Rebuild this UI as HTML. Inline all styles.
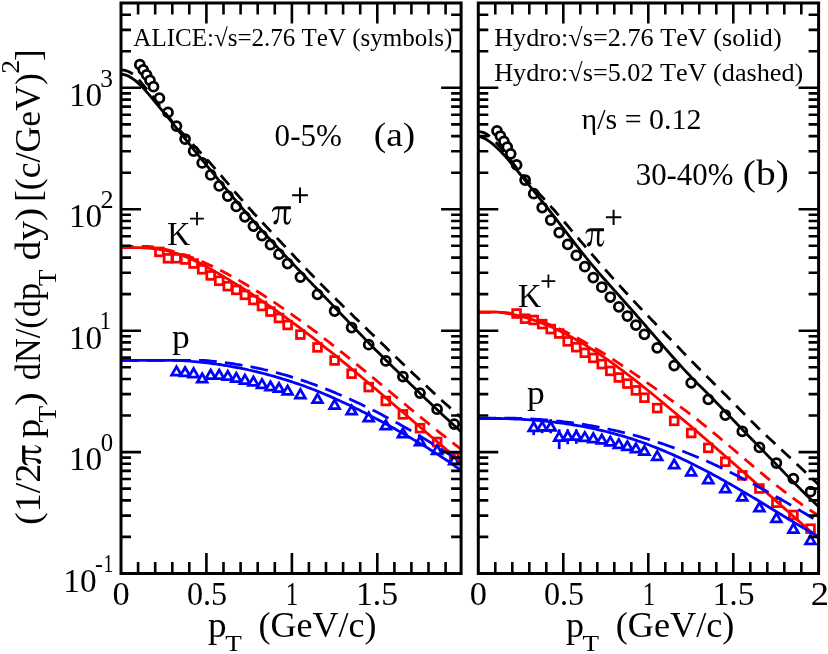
<!DOCTYPE html>
<html><head><meta charset="utf-8"><title>Spectra</title>
<style>
html,body{margin:0;padding:0;background:#fff;}
body{width:828px;height:654px;overflow:hidden;font-family:"Liberation Serif",serif;}
svg{display:block;will-change:transform;}
svg text{font-family:"Liberation Serif",serif;fill:#000;font-kerning:none;}
</style></head><body>
<svg width="828" height="654" viewBox="0 0 828 654">
<rect width="100%" height="100%" fill="#fff"/>
<clipPath id="clipL"><rect x="121.0" y="3.0" width="340.1" height="570.5"/></clipPath>
<g clip-path="url(#clipL)">
<g fill="#fff" stroke="#000000" stroke-width="2.75" stroke-linejoin="miter"><circle cx="139.8" cy="64.7" r="4.50"/><circle cx="143.2" cy="69.8" r="4.50"/><circle cx="146.6" cy="74.8" r="4.50"/><circle cx="150.0" cy="80.3" r="4.50"/><circle cx="153.5" cy="86.7" r="4.50"/><circle cx="159.4" cy="98.2" r="4.50"/><circle cx="168.0" cy="112.4" r="4.50"/><circle cx="176.5" cy="126.1" r="4.50"/><circle cx="185.1" cy="139.0" r="4.50"/><circle cx="193.6" cy="151.0" r="4.50"/><circle cx="202.2" cy="162.9" r="4.50"/><circle cx="210.7" cy="174.9" r="4.50"/><circle cx="219.2" cy="185.9" r="4.50"/><circle cx="227.8" cy="196.0" r="4.50"/><circle cx="236.3" cy="206.4" r="4.50"/><circle cx="244.9" cy="216.8" r="4.50"/><circle cx="253.4" cy="226.1" r="4.50"/><circle cx="262.0" cy="235.6" r="4.50"/><circle cx="270.5" cy="244.7" r="4.50"/><circle cx="279.0" cy="254.2" r="4.50"/><circle cx="287.6" cy="263.5" r="4.50"/><circle cx="300.4" cy="277.1" r="4.50"/><circle cx="317.5" cy="294.3" r="4.50"/><circle cx="334.6" cy="311.0" r="4.50"/><circle cx="351.6" cy="327.5" r="4.50"/><circle cx="368.7" cy="344.7" r="4.50"/><circle cx="385.8" cy="360.9" r="4.50"/><circle cx="402.9" cy="376.5" r="4.50"/><circle cx="420.0" cy="393.1" r="4.50"/><circle cx="437.1" cy="409.2" r="4.50"/><circle cx="454.2" cy="424.1" r="4.50"/></g>
<g fill="#fff" stroke="#ff0000" stroke-width="2.75" stroke-linejoin="miter"><rect x="155.5" y="248.0" width="7.8" height="7.8"/><rect x="164.1" y="254.4" width="7.8" height="7.8"/><rect x="172.6" y="254.4" width="7.8" height="7.8"/><rect x="181.2" y="255.6" width="7.8" height="7.8"/><rect x="189.7" y="259.6" width="7.8" height="7.8"/><rect x="198.3" y="265.4" width="7.8" height="7.8"/><rect x="206.8" y="271.5" width="7.8" height="7.8"/><rect x="215.3" y="276.9" width="7.8" height="7.8"/><rect x="223.9" y="282.3" width="7.8" height="7.8"/><rect x="232.4" y="286.0" width="7.8" height="7.8"/><rect x="241.0" y="291.0" width="7.8" height="7.8"/><rect x="249.5" y="296.1" width="7.8" height="7.8"/><rect x="258.1" y="302.1" width="7.8" height="7.8"/><rect x="266.6" y="307.7" width="7.8" height="7.8"/><rect x="275.1" y="314.1" width="7.8" height="7.8"/><rect x="283.7" y="321.1" width="7.8" height="7.8"/><rect x="296.5" y="330.7" width="7.8" height="7.8"/><rect x="313.6" y="343.5" width="7.8" height="7.8"/><rect x="330.7" y="356.6" width="7.8" height="7.8"/><rect x="347.7" y="369.8" width="7.8" height="7.8"/><rect x="364.8" y="383.2" width="7.8" height="7.8"/><rect x="381.9" y="397.1" width="7.8" height="7.8"/><rect x="399.0" y="410.5" width="7.8" height="7.8"/><rect x="416.1" y="424.3" width="7.8" height="7.8"/><rect x="433.2" y="438.1" width="7.8" height="7.8"/><rect x="450.3" y="453.3" width="7.8" height="7.8"/></g>
<g fill="#fff" stroke="#0000ff" stroke-width="2.75" stroke-linejoin="miter"><path d="M171.6 375.1 L181.4 375.1 L176.5 366.7 Z"/><path d="M180.2 375.9 L190.0 375.9 L185.1 367.5 Z"/><path d="M188.7 377.0 L198.5 377.0 L193.6 368.6 Z"/><path d="M197.3 382.2 L207.1 382.2 L202.2 373.8 Z"/><path d="M205.8 378.5 L215.6 378.5 L210.7 370.1 Z"/><path d="M214.3 378.5 L224.1 378.5 L219.2 370.1 Z"/><path d="M222.9 379.6 L232.7 379.6 L227.8 371.2 Z"/><path d="M231.4 381.7 L241.2 381.7 L236.3 373.3 Z"/><path d="M240.0 383.5 L249.8 383.5 L244.9 375.1 Z"/><path d="M248.5 385.4 L258.3 385.4 L253.4 377.0 Z"/><path d="M257.1 387.8 L266.9 387.8 L262.0 379.4 Z"/><path d="M265.6 390.1 L275.4 390.1 L270.5 381.7 Z"/><path d="M274.1 391.7 L283.9 391.7 L279.0 383.3 Z"/><path d="M282.7 394.4 L292.5 394.4 L287.6 386.0 Z"/><path d="M295.5 398.0 L305.3 398.0 L300.4 389.6 Z"/><path d="M312.6 402.7 L322.4 402.7 L317.5 394.3 Z"/><path d="M329.7 408.5 L339.5 408.5 L334.6 400.1 Z"/><path d="M346.7 414.1 L356.5 414.1 L351.6 405.7 Z"/><path d="M363.8 421.1 L373.6 421.1 L368.7 412.7 Z"/><path d="M380.9 429.0 L390.7 429.0 L385.8 420.6 Z"/><path d="M398.0 437.0 L407.8 437.0 L402.9 428.6 Z"/><path d="M415.1 445.0 L424.9 445.0 L420.0 436.6 Z"/><path d="M432.2 453.8 L442.0 453.8 L437.1 445.4 Z"/><path d="M449.3 464.0 L459.1 464.0 L454.2 455.6 Z"/></g>
<path d="M121.0 74.2 L123.5 74.5 L125.9 75.1 L128.4 76.1 L130.8 77.5 L133.3 79.1 L135.7 80.9 L138.2 83.1 L140.7 85.4 L143.1 87.9 L145.6 90.6 L148.0 93.4 L150.5 96.3 L153.0 99.3 L155.4 102.3 L157.9 105.4 L160.3 108.4 L162.8 111.3 L165.2 114.2 L167.7 117.1 L170.2 120.1 L172.6 123.2 L175.1 126.3 L177.5 129.4 L180.0 132.5 L182.5 135.6 L184.9 138.6 L187.4 141.7 L189.8 144.7 L192.3 147.7 L194.7 150.8 L197.2 153.8 L199.7 156.8 L202.1 159.8 L204.6 162.8 L207.0 165.8 L209.5 168.8 L212.0 171.8 L214.4 174.8 L216.9 177.8 L219.3 180.8 L221.8 183.8 L224.2 186.7 L226.7 189.7 L229.2 192.7 L231.6 195.6 L234.1 198.6 L236.5 201.5 L239.0 204.4 L241.5 207.3 L243.9 210.2 L246.4 213.0 L248.8 215.8 L251.3 218.6 L253.7 221.4 L256.2 224.2 L258.7 227.0 L261.1 229.7 L263.6 232.4 L266.0 235.1 L268.5 237.8 L271.0 240.5 L273.4 243.1 L275.9 245.8 L278.3 248.4 L280.8 251.0 L283.2 253.7 L285.7 256.3 L288.2 258.9 L290.6 261.4 L293.1 264.0 L295.5 266.6 L298.0 269.2 L300.5 271.7 L302.9 274.3 L305.4 276.8 L307.8 279.4 L310.3 281.9 L312.7 284.5 L315.2 287.0 L317.7 289.6 L320.1 292.1 L322.6 294.7 L325.0 297.2 L327.5 299.8 L330.0 302.4 L332.4 304.9 L334.9 307.5 L337.3 310.1 L339.8 312.7 L342.2 315.2 L344.7 317.8 L347.2 320.4 L349.6 323.0 L352.1 325.6 L354.5 328.2 L357.0 330.7 L359.5 333.3 L361.9 335.8 L364.4 338.4 L366.8 340.9 L369.3 343.4 L371.7 345.9 L374.2 348.4 L376.7 350.9 L379.1 353.3 L381.6 355.8 L384.0 358.2 L386.5 360.7 L389.0 363.1 L391.4 365.5 L393.9 367.9 L396.3 370.3 L398.8 372.7 L401.2 375.1 L403.7 377.5 L406.2 379.9 L408.6 382.3 L411.1 384.7 L413.5 387.1 L416.0 389.4 L418.5 391.8 L420.9 394.2 L423.4 396.6 L425.8 398.9 L428.3 401.3 L430.7 403.6 L433.2 406.0 L435.7 408.3 L438.1 410.6 L440.6 412.9 L443.0 415.2 L445.5 417.5 L448.0 419.8 L450.4 422.0 L452.9 424.3 L455.3 426.5 L457.8 428.7 L460.2 430.9 L462.7 433.1" fill="none" stroke="#000000" stroke-width="2.8"/>
<path d="M121.0 70.0 L123.5 70.2 L125.9 70.7 L128.4 71.5 L130.8 72.7 L133.3 74.3 L135.7 76.4 L138.2 79.0 L140.7 81.9 L143.1 85.0 L145.6 88.0 L148.0 90.9 L150.5 93.9 L153.0 96.9 L155.4 100.2 L157.9 103.4 L160.3 106.6 L162.8 109.8 L165.2 112.9 L167.7 116.0 L170.2 119.0 L172.6 122.0 L175.1 124.9 L177.5 127.7 L180.0 130.5 L182.5 133.2 L184.9 135.9 L187.4 138.6 L189.8 141.2 L192.3 143.8 L194.7 146.4 L197.2 149.0 L199.7 151.7 L202.1 154.3 L204.6 156.9 L207.0 159.6 L209.5 162.3 L212.0 165.1 L214.4 167.9 L216.9 170.7 L219.3 173.6 L221.8 176.4 L224.2 179.3 L226.7 182.2 L229.2 185.1 L231.6 188.0 L234.1 190.9 L236.5 193.8 L239.0 196.6 L241.5 199.5 L243.9 202.3 L246.4 205.0 L248.8 207.8 L251.3 210.5 L253.7 213.2 L256.2 215.8 L258.7 218.5 L261.1 221.1 L263.6 223.8 L266.0 226.4 L268.5 229.0 L271.0 231.6 L273.4 234.2 L275.9 236.8 L278.3 239.4 L280.8 242.0 L283.2 244.6 L285.7 247.2 L288.2 249.8 L290.6 252.4 L293.1 255.0 L295.5 257.7 L298.0 260.3 L300.5 262.9 L302.9 265.4 L305.4 268.0 L307.8 270.6 L310.3 273.2 L312.7 275.7 L315.2 278.2 L317.7 280.8 L320.1 283.3 L322.6 285.8 L325.0 288.2 L327.5 290.7 L330.0 293.1 L332.4 295.6 L334.9 298.0 L337.3 300.4 L339.8 302.8 L342.2 305.3 L344.7 307.6 L347.2 310.0 L349.6 312.4 L352.1 314.8 L354.5 317.2 L357.0 319.5 L359.5 321.9 L361.9 324.3 L364.4 326.6 L366.8 329.0 L369.3 331.4 L371.7 333.8 L374.2 336.1 L376.7 338.5 L379.1 340.9 L381.6 343.2 L384.0 345.6 L386.5 348.0 L389.0 350.4 L391.4 352.7 L393.9 355.1 L396.3 357.5 L398.8 359.8 L401.2 362.2 L403.7 364.6 L406.2 366.9 L408.6 369.3 L411.1 371.6 L413.5 373.9 L416.0 376.3 L418.5 378.6 L420.9 380.9 L423.4 383.2 L425.8 385.5 L428.3 387.8 L430.7 390.1 L433.2 392.4 L435.7 394.7 L438.1 397.0 L440.6 399.2 L443.0 401.5 L445.5 403.7 L448.0 405.9 L450.4 408.1 L452.9 410.3 L455.3 412.5 L457.8 414.7 L460.2 416.8 L462.7 419.0" fill="none" stroke="#000000" stroke-width="2.8" stroke-dasharray="12.7 8.3"/>
<path d="M121.0 247.6 L123.5 247.6 L125.9 247.6 L128.4 247.6 L130.8 247.6 L133.3 247.6 L135.7 247.6 L138.2 247.6 L140.7 247.7 L143.1 247.8 L145.6 248.0 L148.0 248.1 L150.5 248.3 L153.0 248.6 L155.4 248.9 L157.9 249.2 L160.3 249.6 L162.8 250.0 L165.2 250.5 L167.7 251.0 L170.2 251.6 L172.6 252.3 L175.1 253.0 L177.5 253.7 L180.0 254.6 L182.5 255.4 L184.9 256.4 L187.4 257.4 L189.8 258.4 L192.3 259.5 L194.7 260.7 L197.2 261.9 L199.7 263.1 L202.1 264.4 L204.6 265.7 L207.0 267.1 L209.5 268.4 L212.0 269.8 L214.4 271.2 L216.9 272.6 L219.3 274.0 L221.8 275.5 L224.2 276.9 L226.7 278.4 L229.2 279.9 L231.6 281.4 L234.1 282.9 L236.5 284.4 L239.0 285.9 L241.5 287.5 L243.9 289.0 L246.4 290.6 L248.8 292.2 L251.3 293.8 L253.7 295.4 L256.2 297.0 L258.7 298.7 L261.1 300.3 L263.6 302.0 L266.0 303.7 L268.5 305.3 L271.0 307.0 L273.4 308.8 L275.9 310.5 L278.3 312.2 L280.8 314.0 L283.2 315.7 L285.7 317.5 L288.2 319.3 L290.6 321.1 L293.1 322.9 L295.5 324.7 L298.0 326.5 L300.5 328.4 L302.9 330.2 L305.4 332.1 L307.8 333.9 L310.3 335.8 L312.7 337.7 L315.2 339.6 L317.7 341.5 L320.1 343.5 L322.6 345.4 L325.0 347.3 L327.5 349.3 L330.0 351.2 L332.4 353.2 L334.9 355.2 L337.3 357.2 L339.8 359.2 L342.2 361.2 L344.7 363.2 L347.2 365.2 L349.6 367.2 L352.1 369.3 L354.5 371.3 L357.0 373.4 L359.5 375.4 L361.9 377.5 L364.4 379.5 L366.8 381.6 L369.3 383.7 L371.7 385.8 L374.2 387.8 L376.7 389.9 L379.1 392.0 L381.6 394.1 L384.0 396.2 L386.5 398.3 L389.0 400.4 L391.4 402.5 L393.9 404.6 L396.3 406.7 L398.8 408.8 L401.2 410.9 L403.7 413.0 L406.2 415.1 L408.6 417.2 L411.1 419.4 L413.5 421.5 L416.0 423.6 L418.5 425.7 L420.9 427.8 L423.4 429.9 L425.8 432.0 L428.3 434.1 L430.7 436.2 L433.2 438.3 L435.7 440.4 L438.1 442.5 L440.6 444.6 L443.0 446.6 L445.5 448.7 L448.0 450.8 L450.4 452.9 L452.9 454.9 L455.3 457.0 L457.8 459.0 L460.2 461.1 L462.7 463.1" fill="none" stroke="#ff0000" stroke-width="2.8"/>
<path d="M121.0 246.5 L123.5 246.5 L125.9 246.5 L128.4 246.5 L130.8 246.5 L133.3 246.5 L135.7 246.5 L138.2 246.5 L140.7 246.5 L143.1 246.5 L145.6 246.5 L148.0 246.5 L150.5 246.7 L153.0 247.0 L155.4 247.4 L157.9 247.8 L160.3 248.2 L162.8 248.7 L165.2 249.3 L167.7 249.9 L170.2 250.5 L172.6 251.1 L175.1 251.8 L177.5 252.5 L180.0 253.3 L182.5 254.1 L184.9 254.9 L187.4 255.8 L189.8 256.7 L192.3 257.6 L194.7 258.6 L197.2 259.6 L199.7 260.6 L202.1 261.6 L204.6 262.7 L207.0 263.8 L209.5 265.0 L212.0 266.1 L214.4 267.3 L216.9 268.5 L219.3 269.8 L221.8 271.0 L224.2 272.3 L226.7 273.6 L229.2 274.9 L231.6 276.3 L234.1 277.6 L236.5 279.0 L239.0 280.4 L241.5 281.9 L243.9 283.3 L246.4 284.8 L248.8 286.2 L251.3 287.7 L253.7 289.2 L256.2 290.7 L258.7 292.3 L261.1 293.8 L263.6 295.4 L266.0 297.0 L268.5 298.6 L271.0 300.2 L273.4 301.8 L275.9 303.4 L278.3 305.1 L280.8 306.8 L283.2 308.4 L285.7 310.1 L288.2 311.9 L290.6 313.6 L293.1 315.3 L295.5 317.1 L298.0 318.8 L300.5 320.6 L302.9 322.4 L305.4 324.2 L307.8 326.0 L310.3 327.8 L312.7 329.7 L315.2 331.5 L317.7 333.4 L320.1 335.3 L322.6 337.2 L325.0 339.1 L327.5 341.0 L330.0 342.9 L332.4 344.8 L334.9 346.8 L337.3 348.7 L339.8 350.7 L342.2 352.6 L344.7 354.6 L347.2 356.6 L349.6 358.6 L352.1 360.6 L354.5 362.6 L357.0 364.6 L359.5 366.6 L361.9 368.6 L364.4 370.6 L366.8 372.6 L369.3 374.7 L371.7 376.7 L374.2 378.7 L376.7 380.8 L379.1 382.8 L381.6 384.8 L384.0 386.9 L386.5 388.9 L389.0 391.0 L391.4 393.0 L393.9 395.1 L396.3 397.1 L398.8 399.1 L401.2 401.2 L403.7 403.2 L406.2 405.3 L408.6 407.3 L411.1 409.3 L413.5 411.3 L416.0 413.4 L418.5 415.4 L420.9 417.4 L423.4 419.4 L425.8 421.4 L428.3 423.4 L430.7 425.4 L433.2 427.4 L435.7 429.3 L438.1 431.3 L440.6 433.3 L443.0 435.2 L445.5 437.1 L448.0 439.1 L450.4 441.0 L452.9 442.9 L455.3 444.8 L457.8 446.7 L460.2 448.6 L462.7 450.4" fill="none" stroke="#ff0000" stroke-width="2.8" stroke-dasharray="12.5 8.2"/>
<path d="M121.0 360.3 L123.5 360.3 L125.9 360.3 L128.4 360.3 L130.8 360.3 L133.3 360.3 L135.7 360.3 L138.2 360.3 L140.7 360.3 L143.1 360.3 L145.6 360.3 L148.0 360.3 L150.5 360.3 L153.0 360.3 L155.4 360.3 L157.9 360.3 L160.3 360.3 L162.8 360.3 L165.2 360.3 L167.7 360.3 L170.2 360.3 L172.6 360.3 L175.1 360.3 L177.5 360.3 L180.0 360.4 L182.5 360.6 L184.9 360.8 L187.4 360.9 L189.8 361.1 L192.3 361.4 L194.7 361.6 L197.2 361.8 L199.7 362.1 L202.1 362.3 L204.6 362.6 L207.0 362.9 L209.5 363.2 L212.0 363.5 L214.4 363.8 L216.9 364.2 L219.3 364.5 L221.8 364.9 L224.2 365.3 L226.7 365.7 L229.2 366.1 L231.6 366.6 L234.1 367.0 L236.5 367.5 L239.0 367.9 L241.5 368.4 L243.9 368.9 L246.4 369.4 L248.8 370.0 L251.3 370.5 L253.7 371.1 L256.2 371.7 L258.7 372.3 L261.1 372.9 L263.6 373.5 L266.0 374.1 L268.5 374.8 L271.0 375.5 L273.4 376.1 L275.9 376.9 L278.3 377.6 L280.8 378.3 L283.2 379.1 L285.7 379.8 L288.2 380.6 L290.6 381.4 L293.1 382.2 L295.5 383.1 L298.0 383.9 L300.5 384.8 L302.9 385.6 L305.4 386.5 L307.8 387.5 L310.3 388.4 L312.7 389.3 L315.2 390.3 L317.7 391.3 L320.1 392.3 L322.6 393.3 L325.0 394.3 L327.5 395.4 L330.0 396.4 L332.4 397.5 L334.9 398.6 L337.3 399.7 L339.8 400.8 L342.2 401.9 L344.7 403.0 L347.2 404.2 L349.6 405.3 L352.1 406.5 L354.5 407.7 L357.0 408.9 L359.5 410.1 L361.9 411.4 L364.4 412.6 L366.8 413.9 L369.3 415.1 L371.7 416.4 L374.2 417.7 L376.7 419.0 L379.1 420.3 L381.6 421.6 L384.0 422.9 L386.5 424.3 L389.0 425.6 L391.4 427.0 L393.9 428.3 L396.3 429.7 L398.8 431.1 L401.2 432.5 L403.7 433.9 L406.2 435.3 L408.6 436.7 L411.1 438.1 L413.5 439.6 L416.0 441.0 L418.5 442.5 L420.9 443.9 L423.4 445.4 L425.8 446.9 L428.3 448.4 L430.7 450.0 L433.2 451.5 L435.7 453.1 L438.1 454.7 L440.6 456.3 L443.0 457.9 L445.5 459.5 L448.0 461.2 L450.4 462.9 L452.9 464.6 L455.3 466.3 L457.8 468.0 L460.2 469.8 L462.7 471.6" fill="none" stroke="#0000ff" stroke-width="2.8"/>
<path d="M121.0 360.3 L123.5 360.3 L125.9 360.3 L128.4 360.3 L130.8 360.3 L133.3 360.3 L135.7 360.3 L138.2 360.3 L140.7 360.3 L143.1 360.3 L145.6 360.3 L148.0 360.3 L150.5 360.3 L153.0 360.3 L155.4 360.3 L157.9 360.3 L160.3 360.3 L162.8 360.3 L165.2 360.3 L167.7 360.3 L170.2 360.3 L172.6 360.3 L175.1 360.3 L177.5 360.3 L180.0 360.3 L182.5 360.3 L184.9 360.3 L187.4 360.3 L189.8 360.3 L192.3 360.3 L194.7 360.3 L197.2 360.3 L199.7 360.3 L202.1 360.3 L204.6 360.5 L207.0 360.7 L209.5 360.9 L212.0 361.2 L214.4 361.4 L216.9 361.7 L219.3 361.9 L221.8 362.2 L224.2 362.5 L226.7 362.8 L229.2 363.2 L231.6 363.5 L234.1 363.9 L236.5 364.3 L239.0 364.6 L241.5 365.1 L243.9 365.5 L246.4 365.9 L248.8 366.4 L251.3 366.8 L253.7 367.3 L256.2 367.8 L258.7 368.4 L261.1 368.9 L263.6 369.5 L266.0 370.0 L268.5 370.6 L271.0 371.2 L273.4 371.8 L275.9 372.5 L278.3 373.1 L280.8 373.8 L283.2 374.5 L285.7 375.2 L288.2 375.9 L290.6 376.7 L293.1 377.4 L295.5 378.2 L298.0 379.0 L300.5 379.8 L302.9 380.6 L305.4 381.4 L307.8 382.3 L310.3 383.2 L312.7 384.0 L315.2 384.9 L317.7 385.9 L320.1 386.8 L322.6 387.7 L325.0 388.7 L327.5 389.6 L330.0 390.6 L332.4 391.6 L334.9 392.6 L337.3 393.7 L339.8 394.7 L342.2 395.8 L344.7 396.8 L347.2 397.9 L349.6 399.0 L352.1 400.2 L354.5 401.3 L357.0 402.4 L359.5 403.6 L361.9 404.7 L364.4 405.9 L366.8 407.1 L369.3 408.3 L371.7 409.6 L374.2 410.8 L376.7 412.0 L379.1 413.3 L381.6 414.6 L384.0 415.9 L386.5 417.2 L389.0 418.5 L391.4 419.8 L393.9 421.1 L396.3 422.5 L398.8 423.8 L401.2 425.2 L403.7 426.6 L406.2 428.0 L408.6 429.4 L411.1 430.8 L413.5 432.3 L416.0 433.7 L418.5 435.2 L420.9 436.6 L423.4 438.1 L425.8 439.6 L428.3 441.1 L430.7 442.6 L433.2 444.2 L435.7 445.7 L438.1 447.2 L440.6 448.8 L443.0 450.4 L445.5 451.9 L448.0 453.5 L450.4 455.1 L452.9 456.7 L455.3 458.3 L457.8 460.0 L460.2 461.6 L462.7 463.3" fill="none" stroke="#0000ff" stroke-width="2.8" stroke-dasharray="17.8 8.2"/>
</g>
<rect x="121.0" y="3.0" width="340.1" height="570.5" fill="none" stroke="#000" stroke-width="3.0"/><path d="M138.1 573.5 v-11.5 M138.1 3.0 v11.5 M155.2 573.5 v-11.5 M155.2 3.0 v11.5 M172.3 573.5 v-11.5 M172.3 3.0 v11.5 M189.3 573.5 v-11.5 M189.3 3.0 v11.5 M206.4 573.5 v-20.5 M206.4 3.0 v20.5 M223.5 573.5 v-11.5 M223.5 3.0 v11.5 M240.6 573.5 v-11.5 M240.6 3.0 v11.5 M257.7 573.5 v-11.5 M257.7 3.0 v11.5 M274.8 573.5 v-11.5 M274.8 3.0 v11.5 M291.9 573.5 v-20.5 M291.9 3.0 v20.5 M308.9 573.5 v-11.5 M308.9 3.0 v11.5 M326.0 573.5 v-11.5 M326.0 3.0 v11.5 M343.1 573.5 v-11.5 M343.1 3.0 v11.5 M360.2 573.5 v-11.5 M360.2 3.0 v11.5 M377.3 573.5 v-20.5 M377.3 3.0 v20.5 M394.4 573.5 v-11.5 M394.4 3.0 v11.5 M411.4 573.5 v-11.5 M411.4 3.0 v11.5 M428.5 573.5 v-11.5 M428.5 3.0 v11.5 M445.6 573.5 v-11.5 M445.6 3.0 v11.5 M121.0 536.9 h10.0 M461.1 536.9 h-10.0 M121.0 515.6 h10.0 M461.1 515.6 h-10.0 M121.0 500.4 h10.0 M461.1 500.4 h-10.0 M121.0 488.6 h10.0 M461.1 488.6 h-10.0 M121.0 479.0 h10.0 M461.1 479.0 h-10.0 M121.0 470.9 h10.0 M461.1 470.9 h-10.0 M121.0 463.8 h10.0 M461.1 463.8 h-10.0 M121.0 457.6 h10.0 M461.1 457.6 h-10.0 M121.0 452.1 h20.0 M461.1 452.1 h-20.0 M121.0 415.5 h10.0 M461.1 415.5 h-10.0 M121.0 394.1 h10.0 M461.1 394.1 h-10.0 M121.0 379.0 h10.0 M461.1 379.0 h-10.0 M121.0 367.2 h10.0 M461.1 367.2 h-10.0 M121.0 357.6 h10.0 M461.1 357.6 h-10.0 M121.0 349.5 h10.0 M461.1 349.5 h-10.0 M121.0 342.4 h10.0 M461.1 342.4 h-10.0 M121.0 336.2 h10.0 M461.1 336.2 h-10.0 M121.0 330.7 h20.0 M461.1 330.7 h-20.0 M121.0 294.1 h10.0 M461.1 294.1 h-10.0 M121.0 272.7 h10.0 M461.1 272.7 h-10.0 M121.0 257.6 h10.0 M461.1 257.6 h-10.0 M121.0 245.8 h10.0 M461.1 245.8 h-10.0 M121.0 236.2 h10.0 M461.1 236.2 h-10.0 M121.0 228.0 h10.0 M461.1 228.0 h-10.0 M121.0 221.0 h10.0 M461.1 221.0 h-10.0 M121.0 214.8 h10.0 M461.1 214.8 h-10.0 M121.0 209.2 h20.0 M461.1 209.2 h-20.0 M121.0 172.7 h10.0 M461.1 172.7 h-10.0 M121.0 151.3 h10.0 M461.1 151.3 h-10.0 M121.0 136.1 h10.0 M461.1 136.1 h-10.0 M121.0 124.4 h10.0 M461.1 124.4 h-10.0 M121.0 114.8 h10.0 M461.1 114.8 h-10.0 M121.0 106.6 h10.0 M461.1 106.6 h-10.0 M121.0 99.6 h10.0 M461.1 99.6 h-10.0 M121.0 93.4 h10.0 M461.1 93.4 h-10.0 M121.0 87.8 h20.0 M461.1 87.8 h-20.0 M121.0 51.3 h10.0 M461.1 51.3 h-10.0 M121.0 29.9 h10.0 M461.1 29.9 h-10.0 M121.0 14.7 h10.0 M461.1 14.7 h-10.0" stroke="#000" stroke-width="2.6" fill="none"/>
<clipPath id="clipR"><rect x="478.3" y="3.0" width="340.3" height="570.5"/></clipPath>
<g clip-path="url(#clipR)">
<g fill="#fff" stroke="#000000" stroke-width="2.75" stroke-linejoin="miter"><circle cx="497.0" cy="130.8" r="4.50"/><circle cx="500.4" cy="136.0" r="4.50"/><circle cx="503.9" cy="141.3" r="4.50"/><circle cx="507.3" cy="147.1" r="4.50"/><circle cx="510.7" cy="153.8" r="4.50"/><circle cx="516.6" cy="164.9" r="4.50"/><circle cx="525.1" cy="180.0" r="4.50"/><circle cx="533.7" cy="193.7" r="4.50"/><circle cx="542.2" cy="207.5" r="4.50"/><circle cx="550.7" cy="220.0" r="4.50"/><circle cx="559.2" cy="232.5" r="4.50"/><circle cx="567.7" cy="244.3" r="4.50"/><circle cx="576.3" cy="255.4" r="4.50"/><circle cx="584.8" cy="266.7" r="4.50"/><circle cx="593.3" cy="277.6" r="4.50"/><circle cx="601.8" cy="287.2" r="4.50"/><circle cx="610.3" cy="297.0" r="4.50"/><circle cx="618.8" cy="306.8" r="4.50"/><circle cx="627.4" cy="316.0" r="4.50"/><circle cx="635.9" cy="325.1" r="4.50"/><circle cx="644.4" cy="334.3" r="4.50"/><circle cx="657.2" cy="347.8" r="4.50"/><circle cx="674.2" cy="365.6" r="4.50"/><circle cx="691.2" cy="382.8" r="4.50"/><circle cx="708.3" cy="399.3" r="4.50"/><circle cx="725.3" cy="415.0" r="4.50"/><circle cx="742.3" cy="431.3" r="4.50"/><circle cx="759.4" cy="447.4" r="4.50"/><circle cx="776.4" cy="463.0" r="4.50"/><circle cx="793.4" cy="478.7" r="4.50"/><circle cx="810.5" cy="491.7" r="4.50"/></g>
<g fill="#fff" stroke="#ff0000" stroke-width="2.75" stroke-linejoin="miter"><rect x="512.7" y="309.6" width="7.8" height="7.8"/><rect x="521.2" y="314.8" width="7.8" height="7.8"/><rect x="529.8" y="316.1" width="7.8" height="7.8"/><rect x="538.3" y="320.2" width="7.8" height="7.8"/><rect x="546.8" y="325.2" width="7.8" height="7.8"/><rect x="555.3" y="329.6" width="7.8" height="7.8"/><rect x="563.8" y="337.5" width="7.8" height="7.8"/><rect x="572.4" y="343.3" width="7.8" height="7.8"/><rect x="580.9" y="348.9" width="7.8" height="7.8"/><rect x="589.4" y="354.0" width="7.8" height="7.8"/><rect x="597.9" y="360.2" width="7.8" height="7.8"/><rect x="606.4" y="367.0" width="7.8" height="7.8"/><rect x="614.9" y="373.6" width="7.8" height="7.8"/><rect x="623.5" y="379.7" width="7.8" height="7.8"/><rect x="632.0" y="386.5" width="7.8" height="7.8"/><rect x="640.5" y="393.8" width="7.8" height="7.8"/><rect x="653.3" y="404.2" width="7.8" height="7.8"/><rect x="670.3" y="417.0" width="7.8" height="7.8"/><rect x="687.3" y="429.1" width="7.8" height="7.8"/><rect x="704.4" y="444.0" width="7.8" height="7.8"/><rect x="721.4" y="457.8" width="7.8" height="7.8"/><rect x="738.4" y="471.5" width="7.8" height="7.8"/><rect x="755.5" y="484.6" width="7.8" height="7.8"/><rect x="772.5" y="498.8" width="7.8" height="7.8"/><rect x="789.5" y="511.1" width="7.8" height="7.8"/><rect x="806.6" y="524.8" width="7.8" height="7.8"/></g>
<g fill="#fff" stroke="#0000ff" stroke-width="2.75" stroke-linejoin="miter"><path d="M576.3 429.5 V443.8"/><path d="M567.7 429.5 V444.3"/><path d="M559.2 429.3 V449.1"/><path d="M550.7 419.2 V433.2"/><path d="M542.2 421.5 V433.2"/><path d="M533.7 421.5 V435.1"/><path d="M528.8 430.9 L538.6 430.9 L533.7 422.5 Z"/><path d="M537.3 430.4 L547.1 430.4 L542.2 422.0 Z"/><path d="M545.8 430.4 L555.6 430.4 L550.7 422.0 Z"/><path d="M554.3 440.5 L564.1 440.5 L559.2 432.1 Z"/><path d="M562.8 439.7 L572.6 439.7 L567.7 431.3 Z"/><path d="M571.4 439.7 L581.2 439.7 L576.3 431.3 Z"/><path d="M579.9 440.8 L589.7 440.8 L584.8 432.4 Z"/><path d="M588.4 442.0 L598.2 442.0 L593.3 433.6 Z"/><path d="M596.9 443.4 L606.7 443.4 L601.8 435.0 Z"/><path d="M605.4 445.3 L615.2 445.3 L610.3 436.9 Z"/><path d="M613.9 447.8 L623.7 447.8 L618.8 439.4 Z"/><path d="M622.5 449.9 L632.3 449.9 L627.4 441.5 Z"/><path d="M631.0 452.1 L640.8 452.1 L635.9 443.7 Z"/><path d="M639.5 454.6 L649.3 454.6 L644.4 446.2 Z"/><path d="M652.3 459.8 L662.1 459.8 L657.2 451.4 Z"/><path d="M669.3 468.1 L679.1 468.1 L674.2 459.7 Z"/><path d="M686.3 475.3 L696.1 475.3 L691.2 466.9 Z"/><path d="M703.4 483.0 L713.2 483.0 L708.3 474.6 Z"/><path d="M720.4 492.0 L730.2 492.0 L725.3 483.6 Z"/><path d="M737.4 500.4 L747.2 500.4 L742.3 492.0 Z"/><path d="M754.5 511.1 L764.3 511.1 L759.4 502.7 Z"/><path d="M771.5 521.8 L781.3 521.8 L776.4 513.4 Z"/><path d="M788.5 532.5 L798.3 532.5 L793.4 524.1 Z"/><path d="M805.6 543.9 L815.4 543.9 L810.5 535.5 Z"/></g>
<path d="M478.3 136.5 L480.8 136.9 L483.2 137.9 L485.7 139.1 L488.1 140.6 L490.6 142.3 L493.0 144.2 L495.5 146.4 L497.9 148.7 L500.4 151.1 L502.8 153.7 L505.3 156.4 L507.7 159.2 L510.2 162.0 L512.6 164.9 L515.1 167.9 L517.5 170.9 L520.0 174.0 L522.4 177.0 L524.9 180.1 L527.3 183.1 L529.8 186.2 L532.2 189.2 L534.7 192.2 L537.1 195.2 L539.6 198.3 L542.0 201.3 L544.5 204.4 L546.9 207.4 L549.4 210.5 L551.8 213.6 L554.3 216.7 L556.7 219.9 L559.2 223.1 L561.6 226.2 L564.1 229.4 L566.5 232.6 L569.0 235.8 L571.4 239.0 L573.9 242.1 L576.3 245.3 L578.8 248.4 L581.2 251.5 L583.7 254.6 L586.1 257.7 L588.6 260.7 L591.0 263.7 L593.5 266.6 L596.0 269.5 L598.4 272.4 L600.9 275.2 L603.3 278.0 L605.8 280.8 L608.2 283.5 L610.7 286.3 L613.1 289.0 L615.6 291.7 L618.0 294.4 L620.5 297.2 L622.9 299.9 L625.4 302.7 L627.8 305.5 L630.3 308.2 L632.7 311.0 L635.2 313.8 L637.6 316.6 L640.1 319.4 L642.5 322.2 L645.0 325.0 L647.4 327.9 L649.9 330.7 L652.3 333.5 L654.8 336.3 L657.2 339.2 L659.7 342.0 L662.1 344.8 L664.6 347.6 L667.0 350.4 L669.5 353.2 L671.9 356.0 L674.4 358.8 L676.8 361.5 L679.3 364.2 L681.7 366.9 L684.2 369.6 L686.6 372.2 L689.1 374.8 L691.5 377.4 L694.0 379.9 L696.4 382.4 L698.9 384.9 L701.3 387.3 L703.8 389.8 L706.3 392.2 L708.7 394.7 L711.2 397.2 L713.6 399.6 L716.1 402.2 L718.5 404.7 L721.0 407.2 L723.4 409.7 L725.9 412.3 L728.3 414.8 L730.8 417.4 L733.2 420.0 L735.7 422.5 L738.1 425.1 L740.6 427.6 L743.0 430.2 L745.5 432.7 L747.9 435.2 L750.4 437.8 L752.8 440.3 L755.3 442.8 L757.7 445.3 L760.2 447.8 L762.6 450.3 L765.1 452.9 L767.5 455.4 L770.0 457.9 L772.4 460.4 L774.9 462.9 L777.3 465.5 L779.8 468.0 L782.2 470.5 L784.7 473.1 L787.1 475.6 L789.6 478.1 L792.0 480.6 L794.5 483.1 L796.9 485.6 L799.4 488.1 L801.8 490.6 L804.3 493.0 L806.7 495.4 L809.2 497.8 L811.6 500.1 L814.1 502.5 L816.5 504.8 L819.0 507.0" fill="none" stroke="#000000" stroke-width="2.8"/>
<path d="M478.3 131.9 L480.8 131.9 L483.2 132.4 L485.7 133.5 L488.1 135.1 L490.6 137.0 L493.0 139.2 L495.5 141.7 L497.9 144.4 L500.4 147.2 L502.8 150.2 L505.3 153.3 L507.7 156.4 L510.2 159.5 L512.6 162.7 L515.1 165.8 L517.5 169.0 L520.0 172.0 L522.4 175.0 L524.9 178.0 L527.3 180.8 L529.8 183.6 L532.2 186.3 L534.7 188.9 L537.1 191.5 L539.6 194.1 L542.0 196.7 L544.5 199.4 L546.9 202.1 L549.4 204.8 L551.8 207.6 L554.3 210.3 L556.7 213.1 L559.2 216.0 L561.6 218.8 L564.1 221.7 L566.5 224.5 L569.0 227.4 L571.4 230.3 L573.9 233.2 L576.3 236.1 L578.8 239.0 L581.2 241.8 L583.7 244.7 L586.1 247.6 L588.6 250.5 L591.0 253.3 L593.5 256.1 L596.0 259.0 L598.4 261.8 L600.9 264.6 L603.3 267.4 L605.8 270.2 L608.2 272.9 L610.7 275.7 L613.1 278.4 L615.6 281.2 L618.0 283.9 L620.5 286.6 L622.9 289.3 L625.4 292.0 L627.8 294.6 L630.3 297.3 L632.7 299.9 L635.2 302.5 L637.6 305.1 L640.1 307.7 L642.5 310.3 L645.0 312.8 L647.4 315.4 L649.9 317.9 L652.3 320.5 L654.8 323.0 L657.2 325.6 L659.7 328.1 L662.1 330.6 L664.6 333.2 L667.0 335.7 L669.5 338.2 L671.9 340.7 L674.4 343.3 L676.8 345.8 L679.3 348.3 L681.7 350.9 L684.2 353.4 L686.6 355.9 L689.1 358.4 L691.5 361.0 L694.0 363.5 L696.4 366.0 L698.9 368.5 L701.3 370.9 L703.8 373.4 L706.3 375.9 L708.7 378.3 L711.2 380.8 L713.6 383.2 L716.1 385.6 L718.5 388.0 L721.0 390.5 L723.4 392.9 L725.9 395.3 L728.3 397.8 L730.8 400.3 L733.2 402.8 L735.7 405.3 L738.1 407.7 L740.6 410.2 L743.0 412.7 L745.5 415.2 L747.9 417.7 L750.4 420.1 L752.8 422.6 L755.3 425.0 L757.7 427.4 L760.2 429.8 L762.6 432.1 L765.1 434.4 L767.5 436.7 L770.0 439.0 L772.4 441.3 L774.9 443.6 L777.3 445.9 L779.8 448.1 L782.2 450.4 L784.7 452.7 L787.1 455.0 L789.6 457.3 L792.0 459.6 L794.5 461.9 L796.9 464.2 L799.4 466.5 L801.8 468.8 L804.3 471.1 L806.7 473.4 L809.2 475.8 L811.6 478.1 L814.1 480.4 L816.5 482.7 L819.0 485.0" fill="none" stroke="#000000" stroke-width="2.8" stroke-dasharray="12.7 8.3"/>
<path d="M478.3 312.0 L480.8 312.0 L483.2 312.0 L485.7 312.0 L488.1 312.0 L490.6 312.0 L493.0 312.0 L495.5 312.0 L497.9 312.2 L500.4 312.5 L502.8 312.7 L505.3 313.1 L507.7 313.5 L510.2 313.9 L512.6 314.3 L515.1 314.9 L517.5 315.4 L520.0 316.0 L522.4 316.6 L524.9 317.3 L527.3 318.0 L529.8 318.8 L532.2 319.6 L534.7 320.4 L537.1 321.3 L539.6 322.2 L542.0 323.1 L544.5 324.1 L546.9 325.1 L549.4 326.1 L551.8 327.2 L554.3 328.3 L556.7 329.5 L559.2 330.7 L561.6 331.9 L564.1 333.1 L566.5 334.4 L569.0 335.7 L571.4 337.0 L573.9 338.4 L576.3 339.8 L578.8 341.2 L581.2 342.7 L583.7 344.1 L586.1 345.6 L588.6 347.2 L591.0 348.7 L593.5 350.3 L596.0 351.9 L598.4 353.5 L600.9 355.2 L603.3 356.8 L605.8 358.5 L608.2 360.2 L610.7 362.0 L613.1 363.7 L615.6 365.5 L618.0 367.3 L620.5 369.1 L622.9 370.9 L625.4 372.8 L627.8 374.6 L630.3 376.5 L632.7 378.4 L635.2 380.3 L637.6 382.2 L640.1 384.1 L642.5 386.1 L645.0 388.1 L647.4 390.0 L649.9 392.0 L652.3 394.0 L654.8 396.0 L657.2 398.0 L659.7 400.0 L662.1 402.1 L664.6 404.1 L667.0 406.2 L669.5 408.2 L671.9 410.3 L674.4 412.3 L676.8 414.4 L679.3 416.5 L681.7 418.6 L684.2 420.6 L686.6 422.7 L689.1 424.8 L691.5 426.9 L694.0 429.0 L696.4 431.1 L698.9 433.2 L701.3 435.4 L703.8 437.5 L706.3 439.6 L708.7 441.7 L711.2 443.8 L713.6 446.0 L716.1 448.1 L718.5 450.2 L721.0 452.4 L723.4 454.5 L725.9 456.7 L728.3 458.8 L730.8 461.0 L733.2 463.1 L735.7 465.3 L738.1 467.4 L740.6 469.6 L743.0 471.8 L745.5 473.9 L747.9 476.1 L750.4 478.2 L752.8 480.4 L755.3 482.6 L757.7 484.7 L760.2 486.9 L762.6 489.1 L765.1 491.2 L767.5 493.4 L770.0 495.6 L772.4 497.7 L774.9 499.9 L777.3 502.1 L779.8 504.3 L782.2 506.4 L784.7 508.6 L787.1 510.8 L789.6 512.9 L792.0 515.1 L794.5 517.2 L796.9 519.4 L799.4 521.6 L801.8 523.7 L804.3 525.9 L806.7 528.0 L809.2 530.2 L811.6 532.4 L814.1 534.5 L816.5 536.6 L819.0 538.8" fill="none" stroke="#ff0000" stroke-width="2.8"/>
<path d="M478.3 312.4 L480.8 312.4 L483.2 312.4 L485.7 312.4 L488.1 312.4 L490.6 312.4 L493.0 312.4 L495.5 312.4 L497.9 312.4 L500.4 312.4 L502.8 312.4 L505.3 312.6 L507.7 312.9 L510.2 313.2 L512.6 313.6 L515.1 314.1 L517.5 314.6 L520.0 315.1 L522.4 315.7 L524.9 316.3 L527.3 316.9 L529.8 317.6 L532.2 318.4 L534.7 319.1 L537.1 320.0 L539.6 320.8 L542.0 321.7 L544.5 322.6 L546.9 323.6 L549.4 324.5 L551.8 325.6 L554.3 326.6 L556.7 327.7 L559.2 328.8 L561.6 330.0 L564.1 331.1 L566.5 332.3 L569.0 333.6 L571.4 334.8 L573.9 336.1 L576.3 337.4 L578.8 338.7 L581.2 340.1 L583.7 341.5 L586.1 342.9 L588.6 344.3 L591.0 345.7 L593.5 347.2 L596.0 348.7 L598.4 350.2 L600.9 351.7 L603.3 353.2 L605.8 354.8 L608.2 356.3 L610.7 357.9 L613.1 359.5 L615.6 361.1 L618.0 362.7 L620.5 364.3 L622.9 366.0 L625.4 367.6 L627.8 369.3 L630.3 371.0 L632.7 372.6 L635.2 374.3 L637.6 376.0 L640.1 377.7 L642.5 379.5 L645.0 381.2 L647.4 382.9 L649.9 384.6 L652.3 386.4 L654.8 388.1 L657.2 389.9 L659.7 391.7 L662.1 393.4 L664.6 395.2 L667.0 397.0 L669.5 398.8 L671.9 400.6 L674.4 402.4 L676.8 404.2 L679.3 406.0 L681.7 407.8 L684.2 409.6 L686.6 411.4 L689.1 413.3 L691.5 415.2 L694.0 417.1 L696.4 419.0 L698.9 420.9 L701.3 422.9 L703.8 424.8 L706.3 426.8 L708.7 428.8 L711.2 430.8 L713.6 432.8 L716.1 434.9 L718.5 436.9 L721.0 439.0 L723.4 441.0 L725.9 443.1 L728.3 445.2 L730.8 447.2 L733.2 449.3 L735.7 451.4 L738.1 453.5 L740.6 455.6 L743.0 457.6 L745.5 459.7 L747.9 461.8 L750.4 463.9 L752.8 465.9 L755.3 468.0 L757.7 470.0 L760.2 472.1 L762.6 474.1 L765.1 476.1 L767.5 478.2 L770.0 480.2 L772.4 482.1 L774.9 484.1 L777.3 486.1 L779.8 488.0 L782.2 489.9 L784.7 491.8 L787.1 493.7 L789.6 495.6 L792.0 497.4 L794.5 499.2 L796.9 501.0 L799.4 502.7 L801.8 504.5 L804.3 506.2 L806.7 507.8 L809.2 509.5 L811.6 511.1 L814.1 512.7 L816.5 514.2 L819.0 515.7" fill="none" stroke="#ff0000" stroke-width="2.8" stroke-dasharray="12.5 8.2"/>
<path d="M478.3 418.5 L480.8 418.5 L483.2 418.5 L485.7 418.5 L488.1 418.5 L490.6 418.5 L493.0 418.5 L495.5 418.5 L497.9 418.5 L500.4 418.5 L502.8 418.6 L505.3 418.6 L507.7 418.7 L510.2 418.8 L512.6 418.9 L515.1 419.0 L517.5 419.1 L520.0 419.2 L522.4 419.3 L524.9 419.5 L527.3 419.6 L529.8 419.8 L532.2 420.0 L534.7 420.2 L537.1 420.4 L539.6 420.6 L542.0 420.8 L544.5 421.1 L546.9 421.3 L549.4 421.6 L551.8 421.9 L554.3 422.1 L556.7 422.5 L559.2 422.8 L561.6 423.1 L564.1 423.4 L566.5 423.8 L569.0 424.2 L571.4 424.6 L573.9 425.0 L576.3 425.4 L578.8 425.8 L581.2 426.2 L583.7 426.7 L586.1 427.2 L588.6 427.7 L591.0 428.2 L593.5 428.7 L596.0 429.2 L598.4 429.8 L600.9 430.3 L603.3 430.9 L605.8 431.5 L608.2 432.1 L610.7 432.8 L613.1 433.4 L615.6 434.1 L618.0 434.8 L620.5 435.5 L622.9 436.2 L625.4 436.9 L627.8 437.7 L630.3 438.4 L632.7 439.2 L635.2 440.0 L637.6 440.9 L640.1 441.7 L642.5 442.5 L645.0 443.4 L647.4 444.3 L649.9 445.2 L652.3 446.2 L654.8 447.1 L657.2 448.1 L659.7 449.1 L662.1 450.1 L664.6 451.1 L667.0 452.2 L669.5 453.2 L671.9 454.3 L674.4 455.4 L676.8 456.5 L679.3 457.6 L681.7 458.8 L684.2 460.0 L686.6 461.1 L689.1 462.3 L691.5 463.5 L694.0 464.7 L696.4 466.0 L698.9 467.2 L701.3 468.5 L703.8 469.8 L706.3 471.0 L708.7 472.3 L711.2 473.6 L713.6 475.0 L716.1 476.3 L718.5 477.6 L721.0 479.0 L723.4 480.3 L725.9 481.7 L728.3 483.1 L730.8 484.5 L733.2 485.9 L735.7 487.3 L738.1 488.7 L740.6 490.1 L743.0 491.6 L745.5 493.0 L747.9 494.5 L750.4 495.9 L752.8 497.4 L755.3 498.8 L757.7 500.3 L760.2 501.8 L762.6 503.3 L765.1 504.8 L767.5 506.2 L770.0 507.7 L772.4 509.2 L774.9 510.7 L777.3 512.2 L779.8 513.7 L782.2 515.2 L784.7 516.7 L787.1 518.2 L789.6 519.7 L792.0 521.1 L794.5 522.6 L796.9 524.1 L799.4 525.6 L801.8 527.0 L804.3 528.4 L806.7 529.9 L809.2 531.3 L811.6 532.7 L814.1 534.1 L816.5 535.5 L819.0 536.9" fill="none" stroke="#0000ff" stroke-width="2.8"/>
<path d="M478.3 418.2 L480.8 418.2 L483.2 418.2 L485.7 418.2 L488.1 418.2 L490.6 418.2 L493.0 418.2 L495.5 418.2 L497.9 418.2 L500.4 418.2 L502.8 418.2 L505.3 418.2 L507.7 418.2 L510.2 418.2 L512.6 418.2 L515.1 418.2 L517.5 418.3 L520.0 418.4 L522.4 418.5 L524.9 418.6 L527.3 418.7 L529.8 418.8 L532.2 419.0 L534.7 419.1 L537.1 419.3 L539.6 419.4 L542.0 419.6 L544.5 419.8 L546.9 420.0 L549.4 420.3 L551.8 420.5 L554.3 420.7 L556.7 421.0 L559.2 421.2 L561.6 421.5 L564.1 421.8 L566.5 422.1 L569.0 422.4 L571.4 422.7 L573.9 423.1 L576.3 423.4 L578.8 423.8 L581.2 424.1 L583.7 424.5 L586.1 424.9 L588.6 425.3 L591.0 425.7 L593.5 426.2 L596.0 426.6 L598.4 427.1 L600.9 427.6 L603.3 428.0 L605.8 428.5 L608.2 429.0 L610.7 429.6 L613.1 430.1 L615.6 430.7 L618.0 431.2 L620.5 431.8 L622.9 432.4 L625.4 433.0 L627.8 433.6 L630.3 434.2 L632.7 434.9 L635.2 435.5 L637.6 436.2 L640.1 436.9 L642.5 437.6 L645.0 438.3 L647.4 439.0 L649.9 439.8 L652.3 440.5 L654.8 441.3 L657.2 442.1 L659.7 442.9 L662.1 443.7 L664.6 444.5 L667.0 445.4 L669.5 446.2 L671.9 447.1 L674.4 448.0 L676.8 448.9 L679.3 449.8 L681.7 450.8 L684.2 451.7 L686.6 452.7 L689.1 453.7 L691.5 454.7 L694.0 455.7 L696.4 456.7 L698.9 457.7 L701.3 458.8 L703.8 459.9 L706.3 460.9 L708.7 462.0 L711.2 463.1 L713.6 464.3 L716.1 465.4 L718.5 466.5 L721.0 467.7 L723.4 468.9 L725.9 470.1 L728.3 471.2 L730.8 472.5 L733.2 473.7 L735.7 474.9 L738.1 476.1 L740.6 477.4 L743.0 478.7 L745.5 479.9 L747.9 481.2 L750.4 482.5 L752.8 483.8 L755.3 485.1 L757.7 486.4 L760.2 487.8 L762.6 489.1 L765.1 490.5 L767.5 491.8 L770.0 493.2 L772.4 494.5 L774.9 495.9 L777.3 497.3 L779.8 498.7 L782.2 500.1 L784.7 501.5 L787.1 502.9 L789.6 504.4 L792.0 505.8 L794.5 507.2 L796.9 508.7 L799.4 510.1 L801.8 511.6 L804.3 513.0 L806.7 514.5 L809.2 516.0 L811.6 517.5 L814.1 518.9 L816.5 520.4 L819.0 521.9" fill="none" stroke="#0000ff" stroke-width="2.8" stroke-dasharray="17.8 8.2"/>
</g>
<rect x="478.3" y="3.0" width="340.3" height="570.5" fill="none" stroke="#000" stroke-width="3.0"/><path d="M495.3 573.5 v-11.5 M495.3 3.0 v11.5 M512.3 573.5 v-11.5 M512.3 3.0 v11.5 M529.3 573.5 v-11.5 M529.3 3.0 v11.5 M546.3 573.5 v-11.5 M546.3 3.0 v11.5 M563.3 573.5 v-20.5 M563.3 3.0 v20.5 M580.3 573.5 v-11.5 M580.3 3.0 v11.5 M597.3 573.5 v-11.5 M597.3 3.0 v11.5 M614.3 573.5 v-11.5 M614.3 3.0 v11.5 M631.3 573.5 v-11.5 M631.3 3.0 v11.5 M648.3 573.5 v-20.5 M648.3 3.0 v20.5 M665.3 573.5 v-11.5 M665.3 3.0 v11.5 M682.3 573.5 v-11.5 M682.3 3.0 v11.5 M699.3 573.5 v-11.5 M699.3 3.0 v11.5 M716.3 573.5 v-11.5 M716.3 3.0 v11.5 M733.3 573.5 v-20.5 M733.3 3.0 v20.5 M750.3 573.5 v-11.5 M750.3 3.0 v11.5 M767.3 573.5 v-11.5 M767.3 3.0 v11.5 M784.3 573.5 v-11.5 M784.3 3.0 v11.5 M801.3 573.5 v-11.5 M801.3 3.0 v11.5 M478.3 536.9 h10.0 M818.6 536.9 h-10.0 M478.3 515.6 h10.0 M818.6 515.6 h-10.0 M478.3 500.4 h10.0 M818.6 500.4 h-10.0 M478.3 488.6 h10.0 M818.6 488.6 h-10.0 M478.3 479.0 h10.0 M818.6 479.0 h-10.0 M478.3 470.9 h10.0 M818.6 470.9 h-10.0 M478.3 463.8 h10.0 M818.6 463.8 h-10.0 M478.3 457.6 h10.0 M818.6 457.6 h-10.0 M478.3 452.1 h20.0 M818.6 452.1 h-20.0 M478.3 415.5 h10.0 M818.6 415.5 h-10.0 M478.3 394.1 h10.0 M818.6 394.1 h-10.0 M478.3 379.0 h10.0 M818.6 379.0 h-10.0 M478.3 367.2 h10.0 M818.6 367.2 h-10.0 M478.3 357.6 h10.0 M818.6 357.6 h-10.0 M478.3 349.5 h10.0 M818.6 349.5 h-10.0 M478.3 342.4 h10.0 M818.6 342.4 h-10.0 M478.3 336.2 h10.0 M818.6 336.2 h-10.0 M478.3 330.7 h20.0 M818.6 330.7 h-20.0 M478.3 294.1 h10.0 M818.6 294.1 h-10.0 M478.3 272.7 h10.0 M818.6 272.7 h-10.0 M478.3 257.6 h10.0 M818.6 257.6 h-10.0 M478.3 245.8 h10.0 M818.6 245.8 h-10.0 M478.3 236.2 h10.0 M818.6 236.2 h-10.0 M478.3 228.0 h10.0 M818.6 228.0 h-10.0 M478.3 221.0 h10.0 M818.6 221.0 h-10.0 M478.3 214.8 h10.0 M818.6 214.8 h-10.0 M478.3 209.2 h20.0 M818.6 209.2 h-20.0 M478.3 172.7 h10.0 M818.6 172.7 h-10.0 M478.3 151.3 h10.0 M818.6 151.3 h-10.0 M478.3 136.1 h10.0 M818.6 136.1 h-10.0 M478.3 124.4 h10.0 M818.6 124.4 h-10.0 M478.3 114.8 h10.0 M818.6 114.8 h-10.0 M478.3 106.6 h10.0 M818.6 106.6 h-10.0 M478.3 99.6 h10.0 M818.6 99.6 h-10.0 M478.3 93.4 h10.0 M818.6 93.4 h-10.0 M478.3 87.8 h20.0 M818.6 87.8 h-20.0 M478.3 51.3 h10.0 M818.6 51.3 h-10.0 M478.3 29.9 h10.0 M818.6 29.9 h-10.0 M478.3 14.7 h10.0 M818.6 14.7 h-10.0" stroke="#000" stroke-width="2.6" fill="none"/>
<text x="112.59" y="604.50" font-size="34.00" textLength="17.22" lengthAdjust="spacingAndGlyphs">0</text>
<text x="186.95" y="604.50" font-size="34.00" textLength="40.18" lengthAdjust="spacingAndGlyphs">0.5</text>
<text x="285.85" y="604.50" font-size="34.00" textLength="12.50" lengthAdjust="spacingAndGlyphs">1</text>
<text x="355.96" y="604.50" font-size="34.00" textLength="42.18" lengthAdjust="spacingAndGlyphs">1.5</text>
<text x="469.89" y="604.50" font-size="34.00" textLength="17.22" lengthAdjust="spacingAndGlyphs">0</text>
<text x="544.00" y="604.50" font-size="34.00" textLength="40.18" lengthAdjust="spacingAndGlyphs">0.5</text>
<text x="642.65" y="604.50" font-size="34.00" textLength="12.50" lengthAdjust="spacingAndGlyphs">1</text>
<text x="712.51" y="604.50" font-size="34.00" textLength="42.18" lengthAdjust="spacingAndGlyphs">1.5</text>
<text x="810.70" y="604.50" font-size="34.00" textLength="18.21" lengthAdjust="spacingAndGlyphs">2</text>
<text x="68.98" y="106.02" font-size="34.00" textLength="33.18" lengthAdjust="spacingAndGlyphs">10</text>
<text x="100.38" y="86.52" font-size="24.60" textLength="12.71" lengthAdjust="spacingAndGlyphs">3</text>
<text x="68.98" y="227.44" font-size="34.00" textLength="33.18" lengthAdjust="spacingAndGlyphs">10</text>
<text x="100.45" y="207.94" font-size="24.60" textLength="13.10" lengthAdjust="spacingAndGlyphs">2</text>
<text x="68.98" y="348.86" font-size="34.00" textLength="33.18" lengthAdjust="spacingAndGlyphs">10</text>
<text x="99.63" y="329.36" font-size="24.60" textLength="11.22" lengthAdjust="spacingAndGlyphs">1</text>
<text x="68.98" y="470.28" font-size="34.00" textLength="33.18" lengthAdjust="spacingAndGlyphs">10</text>
<text x="100.66" y="450.78" font-size="24.60" textLength="12.39" lengthAdjust="spacingAndGlyphs">0</text>
<text x="63.27" y="591.50" font-size="34.00" textLength="33.29" lengthAdjust="spacingAndGlyphs">10</text>
<text x="95.11" y="572.40" font-size="24.60" textLength="7.95" lengthAdjust="spacingAndGlyphs">-</text>
<text x="103.50" y="572.40" font-size="24.60" textLength="9.66" lengthAdjust="spacingAndGlyphs">1</text>
<text x="208.10" y="636.70" font-size="36.20" textLength="18.55" lengthAdjust="spacingAndGlyphs">p</text>
<text x="225.21" y="651.10" font-size="23.50" textLength="16.54" lengthAdjust="spacingAndGlyphs">T</text>
<text x="258.52" y="636.70" font-size="36.20" textLength="117.96" lengthAdjust="spacingAndGlyphs">(GeV/c)</text>
<text x="565.92" y="636.70" font-size="36.20" textLength="17.98" lengthAdjust="spacingAndGlyphs">p</text>
<text x="582.51" y="651.10" font-size="23.50" textLength="16.54" lengthAdjust="spacingAndGlyphs">T</text>
<text x="615.81" y="636.70" font-size="36.20" textLength="118.58" lengthAdjust="spacingAndGlyphs">(GeV/c)</text>
<g transform="translate(40.1,0) rotate(-90)">
<text x="-525.07" y="0.00" font-size="36.60" textLength="61.38" lengthAdjust="spacingAndGlyphs">(1/2</text>
<g transform="translate(-469.74,-22.22) scale(1.0625,1.0052)"><path d="M3.9 9.7 C4.6 6.6 6.2 4.2 9.0 4.2 L22.7 4.2 L22.7 7.4 L9.3 7.4 C7.0 7.4 5.6 8.2 4.7 10.0 Z" fill="#000"/><path d="M10.1 7.0 C10.0 11.0 9.7 14.5 9.1 17.0 C8.6 18.6 7.4 18.8 6.3 19.6 C4.8 20.8 5.3 23.1 7.3 23.1 C9.6 23.1 10.3 20.0 10.7 16.5 C11.1 13.5 11.4 10.5 11.6 7.0 Z" fill="#000"/><path d="M15.9 7.0 C15.7 11.5 15.4 16 15.6 19.2 C15.9 22.4 17.3 23.4 18.9 23.4 C21.0 23.4 22.4 20.6 23.1 16.7 L22.6 16.5 C21.8 19.2 20.7 20.9 19.4 20.9 C18.2 20.9 17.9 19.8 17.9 18.0 C17.9 14.5 18.1 11 18.4 7.0 Z" fill="#000"/></g>
<text x="-438.12" y="0.00" font-size="36.60" textLength="19.22" lengthAdjust="spacingAndGlyphs">p</text>
<text x="-422.59" y="16.30" font-size="25.00" textLength="16.64" lengthAdjust="spacingAndGlyphs">T</text>
<text x="-405.70" y="0.00" font-size="36.60" textLength="13.48" lengthAdjust="spacingAndGlyphs">)</text>
<text x="-380.14" y="0.00" font-size="36.60" textLength="97.28" lengthAdjust="spacingAndGlyphs">dN/(dp</text>
<text x="-286.08" y="16.30" font-size="25.00" textLength="16.33" lengthAdjust="spacingAndGlyphs">T</text>
<text x="-260.63" y="0.00" font-size="36.60" textLength="52.77" lengthAdjust="spacingAndGlyphs">dy)</text>
<text x="-202.05" y="0.00" font-size="36.60" textLength="128.82" lengthAdjust="spacingAndGlyphs">[(c/GeV)</text>
<text x="-73.83" y="-21.10" font-size="25.70" textLength="13.97" lengthAdjust="spacingAndGlyphs">2</text>
<text x="-61.07" y="0.00" font-size="36.60" textLength="11.67" lengthAdjust="spacingAndGlyphs">]</text>
</g>
<text x="133.36" y="46.10" font-size="25.00" textLength="318.94" lengthAdjust="spacingAndGlyphs">ALICE:√s=2.76 TeV (symbols)</text>
<text x="274.62" y="146.00" font-size="31.00" textLength="67.24" lengthAdjust="spacingAndGlyphs">0-5%</text>
<text x="373.76" y="146.20" font-size="34.50" textLength="41.49" lengthAdjust="spacingAndGlyphs">(a)</text>
<g transform="translate(267.84,202.13) scale(1.0156,0.9688)"><path d="M3.9 9.7 C4.6 6.6 6.2 4.2 9.0 4.2 L22.7 4.2 L22.7 7.4 L9.3 7.4 C7.0 7.4 5.6 8.2 4.7 10.0 Z" fill="#000"/><path d="M10.1 7.0 C10.0 11.0 9.7 14.5 9.1 17.0 C8.6 18.6 7.4 18.8 6.3 19.6 C4.8 20.8 5.3 23.1 7.3 23.1 C9.6 23.1 10.3 20.0 10.7 16.5 C11.1 13.5 11.4 10.5 11.6 7.0 Z" fill="#000"/><path d="M15.9 7.0 C15.7 11.5 15.4 16 15.6 19.2 C15.9 22.4 17.3 23.4 18.9 23.4 C21.0 23.4 22.4 20.6 23.1 16.7 L22.6 16.5 C21.8 19.2 20.7 20.9 19.4 20.9 C18.2 20.9 17.9 19.8 17.9 18.0 C17.9 14.5 18.1 11 18.4 7.0 Z" fill="#000"/></g>
<path d="M292.1 195.3 H307.9 M300.0 187.6 V203.0" stroke="#000" stroke-width="2.0" fill="none"/>
<text x="167.18" y="244.60" font-size="32.80" textLength="22.94" lengthAdjust="spacingAndGlyphs">K</text>
<path d="M190.1 218.7 H203.9 M197.0 212.1 V225.3" stroke="#000" stroke-width="1.8" fill="none"/>
<text x="172.03" y="347.60" font-size="33.60" textLength="17.76" lengthAdjust="spacingAndGlyphs">p</text>
<text x="494.15" y="45.70" font-size="25.20" textLength="287.51" lengthAdjust="spacingAndGlyphs">Hydro:√s=2.76 TeV (solid)</text>
<text x="494.15" y="81.20" font-size="25.20" textLength="309.11" lengthAdjust="spacingAndGlyphs">Hydro:√s=5.02 TeV (dashed)</text>
<text x="581.63" y="128.80" font-size="28.60" textLength="119.82" lengthAdjust="spacingAndGlyphs">η/s = 0.12</text>
<text x="635.72" y="185.10" font-size="31.40" textLength="97.63" lengthAdjust="spacingAndGlyphs">30-40%</text>
<text x="742.87" y="185.30" font-size="35.40" textLength="45.96" lengthAdjust="spacingAndGlyphs">(b)</text>
<g transform="translate(581.42,224.28) scale(0.9948,0.9583)"><path d="M3.9 9.7 C4.6 6.6 6.2 4.2 9.0 4.2 L22.7 4.2 L22.7 7.4 L9.3 7.4 C7.0 7.4 5.6 8.2 4.7 10.0 Z" fill="#000"/><path d="M10.1 7.0 C10.0 11.0 9.7 14.5 9.1 17.0 C8.6 18.6 7.4 18.8 6.3 19.6 C4.8 20.8 5.3 23.1 7.3 23.1 C9.6 23.1 10.3 20.0 10.7 16.5 C11.1 13.5 11.4 10.5 11.6 7.0 Z" fill="#000"/><path d="M15.9 7.0 C15.7 11.5 15.4 16 15.6 19.2 C15.9 22.4 17.3 23.4 18.9 23.4 C21.0 23.4 22.4 20.6 23.1 16.7 L22.6 16.5 C21.8 19.2 20.7 20.9 19.4 20.9 C18.2 20.9 17.9 19.8 17.9 18.0 C17.9 14.5 18.1 11 18.4 7.0 Z" fill="#000"/></g>
<path d="M605.9 217.3 H621.3 M613.6 209.7 V224.9" stroke="#000" stroke-width="2.0" fill="none"/>
<text x="517.97" y="307.00" font-size="32.80" textLength="23.26" lengthAdjust="spacingAndGlyphs">K</text>
<path d="M541.5 281.2 H555.3 M548.4 274.6 V287.8" stroke="#000" stroke-width="1.8" fill="none"/>
<text x="527.13" y="404.30" font-size="33.60" textLength="17.76" lengthAdjust="spacingAndGlyphs">p</text>

</svg>
</body></html>
